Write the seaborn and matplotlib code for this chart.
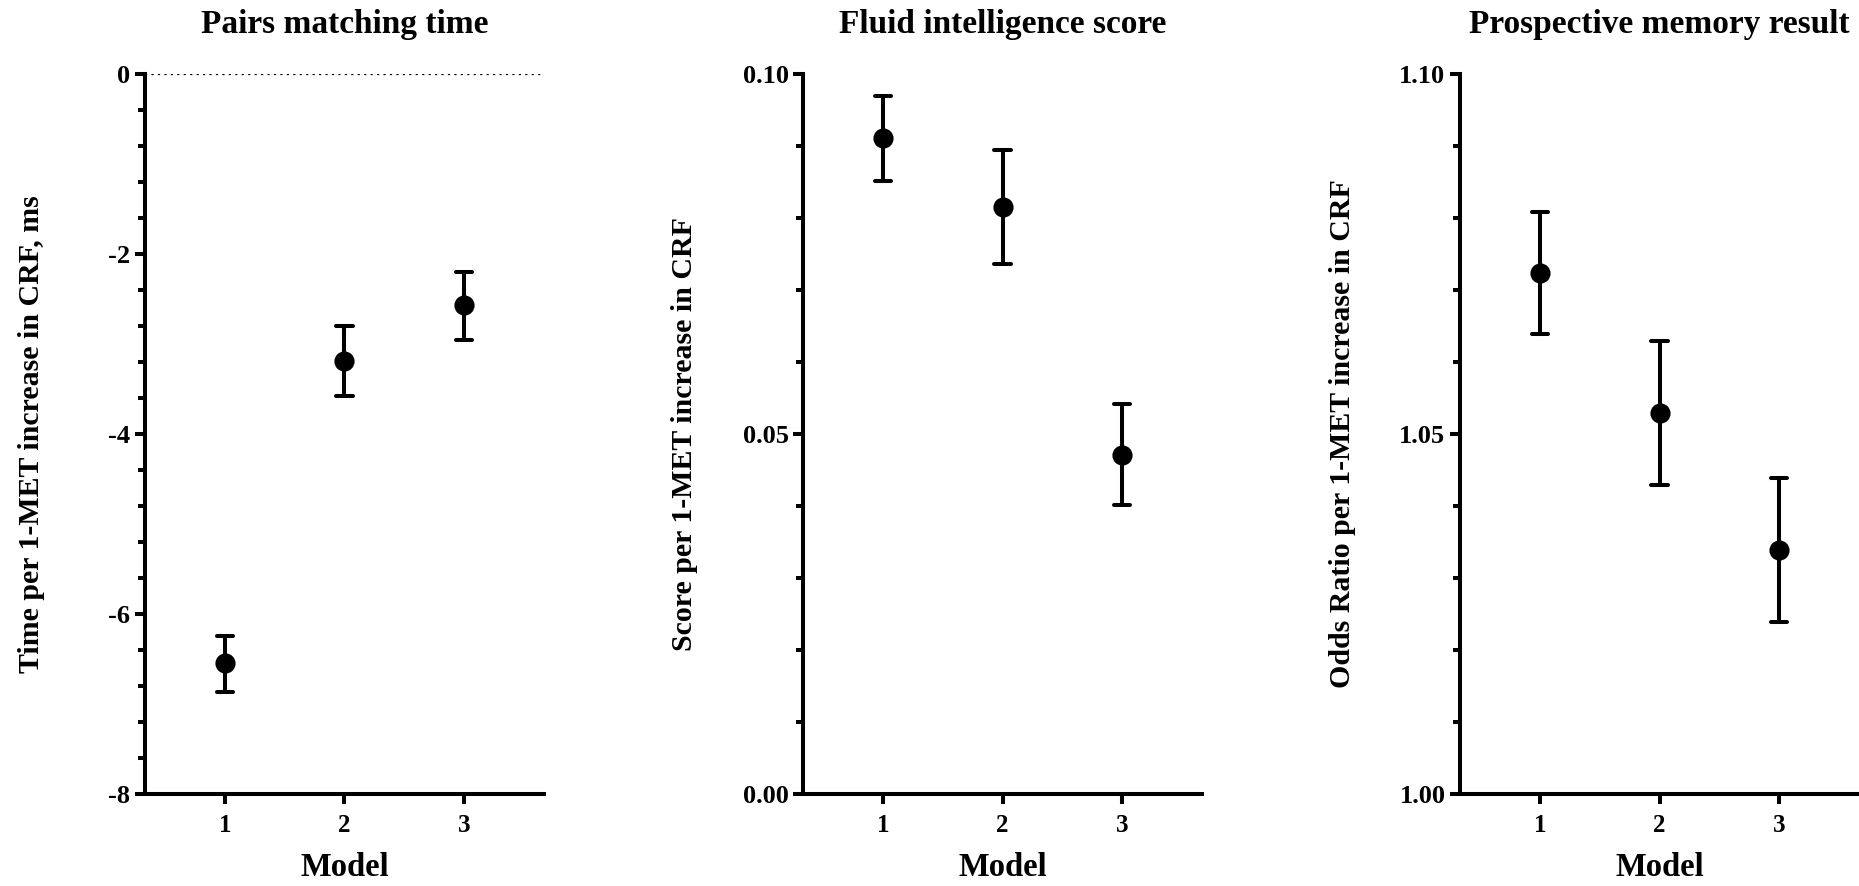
import numpy as np
import pandas as pd
import matplotlib
matplotlib.use("Agg")
import matplotlib.pyplot as plt
import seaborn as sns
from matplotlib.ticker import MultipleLocator, AutoMinorLocator, FormatStrFormatter

# ---- data ----
models = [1, 2, 3]

pairs_est = [-6.55, -3.19, -2.57]
pairs_lo = [-6.87, -3.58, -2.96]
pairs_hi = [-6.24, -2.80, -2.20]

fluid_est = [0.0911, 0.0815, 0.0471]
fluid_lo = [0.0851, 0.0736, 0.0401]
fluid_hi = [0.0969, 0.0894, 0.0541]

pm_est = [1.0723, 1.0529, 1.0339]
pm_lo = [1.0638, 1.0429, 1.0239]
pm_hi = [1.0808, 1.0629, 1.0439]

titles = ["Pairs matching time", "Fluid intelligence score", "Prospective memory result"]
ylabels = ["Time per 1-MET increase in CRF, ms",
           "Score per 1-MET increase in CRF",
           "Odds Ratio per 1-MET increase in CRF"]
xlabel = "Model"


def long_frame(est, lo, hi):
    rows = []
    for m, e, l, h in zip(models, est, lo, hi):
        for v in (l, e, h):
            rows.append({"Model": m, "value": v})
    return pd.DataFrame(rows)


sns.set_theme(style="ticks")
plt.rcParams["font.family"] = ["Liberation Serif", "DejaVu Serif"]
plt.rcParams["font.weight"] = "bold"
plt.rcParams["axes.unicode_minus"] = False
plt.rcParams["text.color"] = "black"
plt.rcParams["axes.labelcolor"] = "black"
plt.rcParams["xtick.color"] = "black"
plt.rcParams["ytick.color"] = "black"
plt.rcParams["axes.edgecolor"] = "black"

fig = plt.figure(figsize=(18.59, 8.86), dpi=100)
lefts = [0.078, 0.432, 0.7854]
width = 0.2146
bottom = 0.1038
height = 0.813

panels = [
    (pairs_est, pairs_lo, pairs_hi, (-8, 0), 2, None, -0.25),
    (fluid_est, fluid_lo, fluid_hi, (0, 0.10), 0.05, "%.2f", -0.264),
    (pm_est, pm_lo, pm_hi, (1.00, 1.10), 0.05, "%.2f", -0.262),
]

LW = 2.9
for i, (est, lo, hi, ylim, major, fmt, ylx) in enumerate(panels):
    ax = fig.add_axes([lefts[i], bottom, width, height])
    df = long_frame(est, lo, hi)
    if i == 0:
        ax.axhline(0, color="black", lw=1.6, linestyle=(0, (1, 1.9)), zorder=0)
    sns.pointplot(data=df, x="Model", y="value", estimator="median",
                  errorbar=lambda v: (np.min(v), np.max(v)),
                  native_scale=True, color="black", linestyle="none",
                  marker="o", markersize=12.5, capsize=0.14,
                  err_kws={"linewidth": LW}, ax=ax)
    ax.set_xlim(0.33, 3.67)
    ax.set_xticks(models)
    ax.set_xticklabels([str(m) for m in models])
    ax.set_ylim(*ylim)
    ax.yaxis.set_major_locator(MultipleLocator(major))
    ax.yaxis.set_minor_locator(AutoMinorLocator(5))
    if fmt:
        ax.yaxis.set_major_formatter(FormatStrFormatter(fmt))
    sns.despine(ax=ax)
    for s in ("left", "bottom"):
        ax.spines[s].set_linewidth(LW)
        ax.spines[s].set_color("black")
    ax.tick_params(axis="y", which="major", length=7.5, width=LW, pad=3,
                   labelsize=19, colors="black")
    ax.tick_params(axis="y", which="minor", length=5, width=LW, colors="black")
    ax.tick_params(axis="x", which="major", length=7.5, width=LW, pad=7,
                   labelsize=18, colors="black")
    for lab in ax.get_xticklabels() + ax.get_yticklabels():
        lab.set_fontweight("bold")
    ax.set_title(titles[i], fontsize=24, fontweight="bold", pad=29, color="black")
    ax.set_ylabel(ylabels[i], fontsize=21.5, fontweight="bold", color="black")
    ax.yaxis.set_label_coords(ylx, 0.5)
    ax.set_xlabel(xlabel, fontsize=23.5, fontweight="bold", color="black")
    ax.xaxis.set_label_coords(0.5, -0.08)
    ax.set_facecolor("white")

fig.savefig("out.png", dpi=100, facecolor="white")
